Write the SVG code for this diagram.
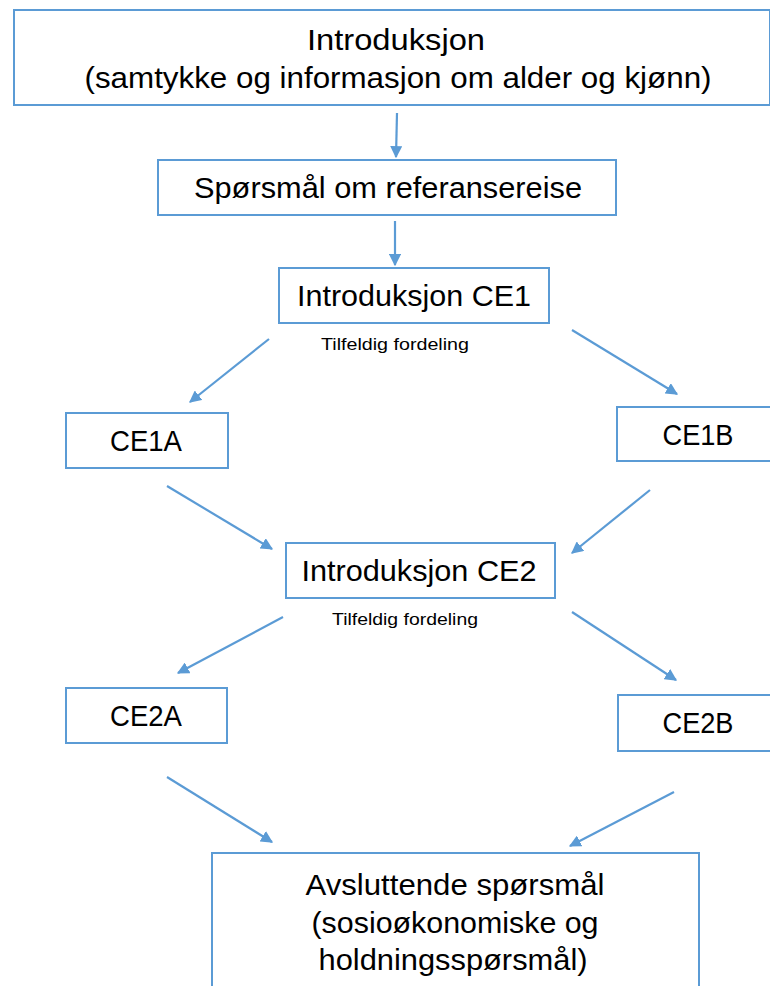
<svg xmlns="http://www.w3.org/2000/svg" width="770" height="986" viewBox="0 0 770 986">
<defs>
<style>
.box{fill:#fff;stroke:#5B9BD5;stroke-width:2}
.t{font-family:"Liberation Sans",Arial,sans-serif;font-size:29px;fill:#000;text-anchor:middle}
.s{font-family:"Liberation Sans",Arial,sans-serif;font-size:17px;fill:#000;text-anchor:middle}
.c{stroke:#5B9BD5;stroke-width:2.2;fill:none;marker-end:url(#ah)}
</style>
<marker id="ah" viewBox="0 0 10 10" refX="9" refY="5" markerWidth="5.5" markerHeight="5.5" orient="auto" markerUnits="strokeWidth">
<path d="M0,0 L10,5 L0,10 z" fill="#5B9BD5"/>
</marker>
</defs>
<rect width="770" height="986" fill="#fff"/>
<g id="connectors">
<line class="c" x1="397" y1="113" x2="396" y2="157"/>
<line class="c" x1="395" y1="221" x2="395" y2="265"/>
<line class="c" x1="269" y1="339" x2="190" y2="402"/>
<line class="c" x1="572" y1="330" x2="677" y2="394"/>
<line class="c" x1="167" y1="486" x2="272" y2="549"/>
<line class="c" x1="650" y1="490" x2="572" y2="553"/>
<line class="c" x1="283" y1="617" x2="178" y2="673"/>
<line class="c" x1="572" y1="612" x2="676" y2="680"/>
<line class="c" x1="167" y1="777" x2="272" y2="842"/>
<line class="c" x1="674" y1="792" x2="570" y2="846"/>
</g>
<g id="intro">
<rect class="box" x="14" y="10" width="756" height="95"/>
<text class="t" x="396" y="50" textLength="178" lengthAdjust="spacingAndGlyphs">Introduksjon</text>
<text class="t" x="398" y="88" textLength="627" lengthAdjust="spacingAndGlyphs">(samtykke og informasjon om alder og kjønn)</text>
</g>
<g id="referanse">
<rect class="box" x="158" y="160" width="458" height="55"/>
<text class="t" x="388" y="198" textLength="388" lengthAdjust="spacingAndGlyphs">Spørsmål om referansereise</text>
</g>
<g id="introCE1">
<rect class="box" x="279" y="268" width="270" height="55"/>
<text class="t" x="414" y="306" textLength="234" lengthAdjust="spacingAndGlyphs">Introduksjon CE1</text>
<text class="s" x="395" y="350" textLength="148" lengthAdjust="spacingAndGlyphs">Tilfeldig fordeling</text>
</g>
<g id="CE1A">
<rect class="box" x="66" y="413" width="162" height="55"/>
<text class="t" x="146" y="451" textLength="72" lengthAdjust="spacingAndGlyphs">CE1A</text>
</g>
<g id="CE1B">
<rect class="box" x="617" y="407" width="170" height="54"/>
<text class="t" x="698" y="445" textLength="71" lengthAdjust="spacingAndGlyphs">CE1B</text>
</g>
<g id="introCE2">
<rect class="box" x="286" y="543" width="269" height="55"/>
<text class="t" x="419" y="581" textLength="235" lengthAdjust="spacingAndGlyphs">Introduksjon CE2</text>
<text class="s" x="405" y="625" textLength="146" lengthAdjust="spacingAndGlyphs">Tilfeldig fordeling</text>
</g>
<g id="CE2A">
<rect class="box" x="66" y="688" width="161" height="55"/>
<text class="t" x="146" y="726" textLength="72" lengthAdjust="spacingAndGlyphs">CE2A</text>
</g>
<g id="CE2B">
<rect class="box" x="618" y="695" width="170" height="56"/>
<text class="t" x="698" y="733" textLength="71" lengthAdjust="spacingAndGlyphs">CE2B</text>
</g>
<g id="avsluttende">
<rect class="box" x="212" y="853" width="487" height="150"/>
<text class="t" x="455" y="895" textLength="299" lengthAdjust="spacingAndGlyphs">Avsluttende spørsmål</text>
<text class="t" x="455" y="933" textLength="287" lengthAdjust="spacingAndGlyphs">(sosioøkonomiske og</text>
<text class="t" x="453" y="970" textLength="269" lengthAdjust="spacingAndGlyphs">holdningsspørsmål)</text>
</g>
</svg>
